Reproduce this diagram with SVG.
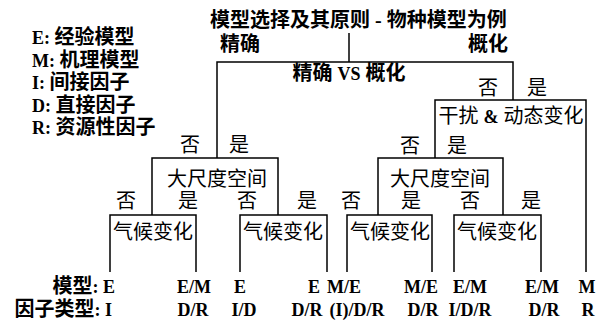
<svg xmlns="http://www.w3.org/2000/svg" width="603" height="322" viewBox="0 0 603 322">
<style>
.t{font-family:"Liberation Serif","Noto Sans CJK SC",serif;font-size:20px;fill:#000}
.b{font-weight:bold}
.m{text-anchor:middle}
.e{text-anchor:end}
.l{font-family:"Liberation Serif","Noto Sans CJK SC",serif;font-size:18px;font-weight:bold;fill:#000}
.c line,.c polyline{stroke:#000;stroke-width:1.5;fill:none}
</style>
<rect width="603" height="322" fill="#fff"/>
<g id="legend">
<text class="l" x="32" y="44">E: <tspan font-size="20">经验模型</tspan></text>
<text class="l" x="32" y="67">M: <tspan font-size="20">机理模型</tspan></text>
<text class="l" x="32" y="89">I: <tspan font-size="20">间接因子</tspan></text>
<text class="l" x="32" y="112">D: <tspan font-size="20">直接因子</tspan></text>
<text class="l" x="32" y="134">R: <tspan font-size="20">资源性因子</tspan></text>
</g>
<g class="c" id="connectors">
<line x1="349" y1="33" x2="349" y2="62"/>
<polyline points="217,158 217,62 513,62 513,100"/>
<polyline points="435,158 435,100 586,100 586,272"/>
<polyline points="152,215 152,158 278,158 278,215"/>
<polyline points="378,215 378,158 503,158 503,215"/>
<polyline points="110,272 110,215 196,215 196,272"/>
<polyline points="240,272 240,215 327,215 327,272"/>
<polyline points="347,272 347,215 432,215 432,272"/>
<polyline points="454,272 454,215 541,215 541,272"/>
</g>
<g id="title"><text class="t b" x="210" y="27">模型选择及其原则 - 物种模型为例</text></g>
<g id="root">
<text class="t b" x="220" y="51">精确</text>
<text class="t b e" x="508" y="51">概化</text>
<text class="t b m" x="349" y="80">精确 <tspan font-size="18">VS</tspan> 概化</text>
</g>
<g id="disturb">
<text class="t m" x="488" y="95">否</text>
<text class="t m" x="537" y="95">是</text>
<text class="t m" x="511" y="123">干扰 <tspan class="b" font-size="18">&amp;</tspan> 动态变化</text>
</g>
<g id="scale-left">
<text class="t m" x="190" y="152">否</text>
<text class="t m" x="239" y="152">是</text>
<text class="t m" x="217" y="186">大尺度空间</text>
</g>
<g id="scale-right">
<text class="t m" x="410" y="153">否</text>
<text class="t m" x="457" y="153">是</text>
<text class="t m" x="440" y="186">大尺度空间</text>
</g>
<g id="climate-1">
<text class="t m" x="126" y="208">否</text>
<text class="t m" x="188" y="208">是</text>
<text class="t m" x="153" y="239">气候变化</text>
</g>
<g id="climate-2">
<text class="t m" x="247" y="208">否</text>
<text class="t m" x="307" y="208">是</text>
<text class="t m" x="283" y="239">气候变化</text>
</g>
<g id="climate-3">
<text class="t m" x="351" y="208">否</text>
<text class="t m" x="411" y="208">是</text>
<text class="t m" x="390" y="239">气候变化</text>
</g>
<g id="climate-4">
<text class="t m" x="470" y="208">否</text>
<text class="t m" x="531" y="208">是</text>
<text class="t m" x="497" y="239">气候变化</text>
</g>
<g id="leaves">
<text class="l e" x="115" y="293"><tspan font-size="20">模型</tspan>: E</text>
<text class="l m" x="194" y="293">E/M</text>
<text class="l m" x="240" y="293">E</text>
<text class="l m" x="314" y="293">E</text>
<text class="l m" x="344" y="293">M/E</text>
<text class="l m" x="421" y="293">M/E</text>
<text class="l m" x="470" y="293">E/M</text>
<text class="l m" x="542" y="293">E/M</text>
<text class="l m" x="587" y="293">M</text>
<text class="l e" x="112" y="316"><tspan font-size="20">因子类型</tspan>: I</text>
<text class="l m" x="193" y="316">D/R</text>
<text class="l m" x="244" y="316">I/D</text>
<text class="l m" x="307" y="316">D/R</text>
<text class="l m" x="357" y="316">(I)/D/R</text>
<text class="l m" x="423" y="316">D/R</text>
<text class="l m" x="470" y="316">I/D/R</text>
<text class="l m" x="544" y="316">D/R</text>
<text class="l m" x="588" y="316">R</text>
</g>
</svg>
